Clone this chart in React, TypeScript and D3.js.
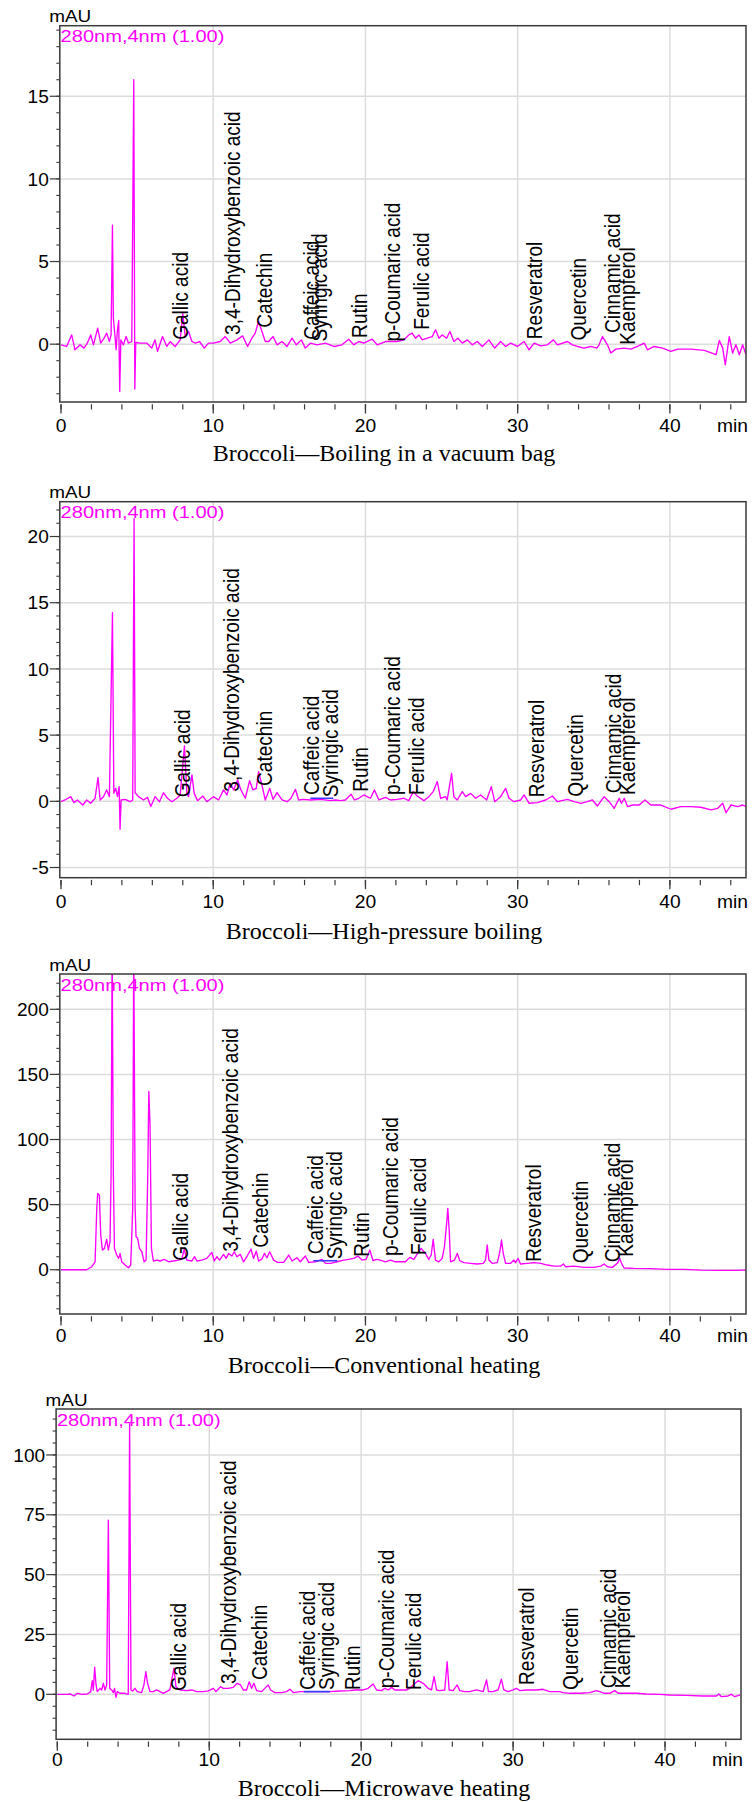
import * as d3 from 'd3';

type Pt = [number, number];

const compounds = [
  'Gallic acid', '3,4-Dihydroxybenzoic acid', 'Catechin', 'Caffeic acid', 'Syringic acid', 'Rutin',
  'p-Coumaric acid', 'Ferulic acid', 'Resveratrol', 'Quercetin', 'Cinnamic acid', 'Kaempferol',
];
const captions = [
  'Broccoli\u2014Boiling in a vacuum bag',
  'Broccoli\u2014High-pressure boiling',
  'Broccoli\u2014Conventional heating',
  'Broccoli\u2014Microwave heating',
];
const channel = '280nm,4nm (1.00)';
const xMajorTicks = [0, 10, 20, 30, 40];
const xMinorTicks = [0, 2, 4, 6, 8, 10, 12, 14, 16, 18, 20, 22, 24, 26, 28, 30, 32, 34, 36, 38, 40, 42, 44];

const yTicks1 = [0, 5, 10, 15];
const yTicks2 = [-5, 0, 5, 10, 15, 20];
const yTicks3 = [0, 50, 100, 150, 200];
const yTicks4 = [0, 25, 50, 75, 100];

// retention time (min), absorbance (mAU)
const trace1: Pt[] = [
  [0, -0.04], [0.37, -0.14], [0.7, 0.56], [0.92, -0.34], [1.25, -0.04], [1.51, -0.24], [1.73, 0.06], [1.95, 0.56],
  [2.13, -0.04], [2.41, 0.97], [2.61, 0.06], [2.83, 0.36], [3.0, 0.67], [3.18, 0.16], [3.29, 0.56], [3.38, 7.2],
  [3.44, 1.57], [3.53, 0.67], [3.62, -0.34], [3.71, 0.87], [3.79, 1.43], [3.86, -2.86], [3.93, 0.26], [4.1, -0.04],
  [4.28, 0.46], [4.43, 0.06], [4.65, 0.16], [4.78, 16.0], [4.85, -2.72], [4.91, 0.1], [5.2, 0.06], [5.64, 0.06],
  [5.96, -0.24], [6.18, 0.26], [6.34, -0.44], [6.67, 0.46], [6.95, -0.14], [7.17, 0.16], [7.5, -0.14], [7.83, 0.26],
  [8.0, 1.85], [8.16, 0.46], [8.38, 0.77], [8.6, 0.16], [8.82, 0.06], [9.1, 0.16], [9.41, -0.24], [9.69, 0.06],
  [10.02, 0.06], [10.46, 0.16], [10.79, 0.46], [11.12, 0.06], [11.56, 0.26], [11.93, 0.5], [12.26, -0.14], [12.54, 0.36],
  [12.76, 0.67], [12.98, 1.37], [13.2, 0.77], [13.42, 0.16], [13.64, 0.16], [13.93, 0.46], [14.19, -0.04], [14.52, 0.16],
  [14.85, -0.14], [15.18, 0.36], [15.46, -0.04], [15.79, 0.26], [16.05, -0.24], [16.38, 0.06], [16.82, -0.04], [17.37, 0.06],
  [17.92, -0.14], [18.46, -0.04], [18.9, 0.3], [19.23, -0.04], [19.56, 0.16], [19.89, 0.06], [20.44, 0.3], [20.77, -0.04],
  [21.32, 0.16], [21.76, 0.16], [22.08, 0.16], [22.52, 0.26], [22.85, 0.56], [23.07, 0.67], [23.29, 0.36], [23.51, 0.56],
  [23.73, 0.26], [24.06, 0.36], [24.39, 0.46], [24.61, 0.87], [24.83, 0.36], [25.04, 0.56], [25.33, 0.36], [25.55, 0.77],
  [25.81, 0.16], [26.08, 0.36], [26.36, 0.06], [26.69, 0.26], [27.02, -0.04], [27.35, 0.16], [27.68, -0.14], [28.11, 0.26],
  [28.49, -0.24], [28.88, 0.16], [29.21, -0.14], [29.54, 0.06], [29.98, -0.14], [30.42, 0.16], [30.75, -0.34], [31.08, 0.06],
  [31.51, -0.1], [31.95, -0.04], [32.35, 0.26], [32.61, -0.04], [33.27, 0.16], [33.6, -0.04], [33.93, -0.14], [34.36, -0.24],
  [34.8, -0.14], [35.2, -0.24], [35.35, -0.04], [35.57, 0.46], [35.9, -0.04], [36.12, -0.54], [36.45, -0.3], [37.0, -0.24],
  [37.44, -0.3], [37.87, -0.14], [38.31, 0.06], [38.53, -0.34], [38.97, -0.14], [39.52, -0.24], [40.07, -0.44], [40.51, -0.3],
  [41.38, -0.3], [42.26, -0.38], [43.03, -0.64], [43.25, 0.22], [43.47, -0.24], [43.64, -1.25], [43.9, 0.46], [44.12, -0.54],
  [44.34, -0.04], [44.56, -0.64], [44.78, -0.04], [45.0, -0.64],
];

const trace2: Pt[] = [
  [0, -0.03], [0.26, 0.1], [0.64, 0.35], [0.85, -0.1], [1.07, 0.1], [1.43, -0.28], [1.69, 0.1], [1.95, -0.15],
  [2.24, 0.23], [2.43, 1.8], [2.57, 0.1], [2.79, 0.35], [3.0, 0.86], [3.18, 0.35], [3.38, 14.25], [3.47, 0.6],
  [3.6, 0.98], [3.71, 0.35], [3.82, 1.11], [3.88, -2.11], [3.95, 0.1], [4.21, 0.15], [4.54, -0.03], [4.71, 0.1],
  [4.8, 21.35], [4.87, 0.65], [5.09, 0.35], [5.42, 0.1], [5.68, 0.3], [5.9, -0.4], [6.18, 0.35], [6.47, -0.03],
  [6.73, 0.65], [6.99, 0.23], [7.28, -0.03], [7.61, 0.23], [7.83, 0.48], [8.11, 4.18], [8.27, 0.6], [8.38, 0.35],
  [8.6, 2.0], [8.75, 0.6], [8.97, 0.05], [9.32, 0.4], [9.58, -0.03], [10.02, 0.35], [10.35, 0.1], [10.68, 0.86],
  [10.9, 0.48], [11.12, 1.36], [11.34, 0.86], [11.6, 1.61], [11.82, 0.86], [12.11, 0.23], [12.39, 1.56], [12.61, 0.86],
  [12.83, 0.98], [12.98, 2.24], [13.2, 1.23], [13.42, 0.1], [13.71, 0.98], [13.93, 0.15], [14.19, 0.65], [14.52, 0.1],
  [14.85, -0.03], [15.11, 0.23], [15.4, 0.91], [15.61, 0.1], [15.94, 0.15], [16.38, 0.1], [17.04, 0.15], [17.7, 0.05],
  [18.03, 0.1], [18.35, 0.05], [18.68, 0.1], [19.06, 0.53], [19.28, 0.1], [19.56, 0.23], [19.89, 0.48], [20.11, 0.35],
  [20.33, 0.23], [20.59, 0.86], [20.88, 0.1], [21.32, 0.3], [21.65, 0.1], [22.08, 0.15], [22.52, 0.23], [22.85, 0.05],
  [23.14, 0.73], [23.4, 0.4], [23.84, 0.05], [24.17, 0.35], [24.45, 0.73], [24.72, 1.49], [24.94, 0.23], [25.26, 0.35],
  [25.37, 0.1], [25.66, 2.11], [25.81, 0.35], [26.03, 0.1], [26.36, 0.73], [26.58, 0.35], [26.91, 0.6], [27.24, 0.23],
  [27.57, 0.48], [27.96, 0.1], [28.27, 1.11], [28.49, -0.03], [28.88, 0.35], [29.21, 0.98], [29.43, 0.23], [29.76, -0.03],
  [30.2, 0.1], [30.42, 0.48], [30.75, -0.15], [31.3, -0.1], [31.84, 0.1], [32.28, 0.4], [32.61, -0.03], [33.27, 0.15],
  [33.71, -0.03], [34.15, -0.15], [34.58, -0.03], [34.91, 0.1], [35.24, -0.35], [35.68, 0.35], [36.01, -0.03], [36.34, -0.53],
  [36.67, 0.23], [36.82, -0.15], [37.0, 0.23], [37.22, -0.4], [37.55, -0.28], [37.98, -0.28], [38.36, 0.1], [38.75, -0.28],
  [39.41, -0.28], [40.07, -0.6], [40.72, -0.4], [41.38, -0.4], [42.04, -0.45], [42.7, -0.65], [43.14, -0.53], [43.47, -0.15],
  [43.69, -0.86], [44.01, -0.28], [44.45, -0.4], [44.78, -0.28], [45.0, -0.4],
];

const trace3: Pt[] = [
  [0, 0], [1.69, 0], [2.02, 2.3], [2.24, 6.1], [2.35, 47], [2.41, 58.6], [2.52, 57.3], [2.61, 26.6],
  [2.72, 15.1], [2.85, 16.4], [3.0, 23.3], [3.11, 15.1], [3.22, 21.5], [3.29, 72.7], [3.36, 250], [3.44, 72.7],
  [3.51, 16.4], [3.66, 11.3], [3.79, 8.7], [3.88, 12.5], [3.99, 6.1], [4.21, 3.6], [4.43, 1.5], [4.58, 3.6],
  [4.71, 47], [4.78, 250], [4.87, 47], [4.93, 25.3], [5.04, 24.1], [5.15, 16.4], [5.31, 13.8], [5.46, 6.1],
  [5.59, 7.4], [5.7, 72.7], [5.77, 137], [5.85, 110.6], [5.94, 16.4], [6.07, 6.7], [6.34, 7.4], [6.51, 6.7],
  [6.78, 7.9], [7.06, 6.1], [7.39, 6.7], [7.72, 7.4], [7.94, 8.2], [8.09, 15.9], [8.27, 7.4], [8.6, 6.7],
  [8.77, 10.0], [8.93, 6.7], [9.25, 7.4], [9.58, 8.7], [9.91, 13.3], [10.07, 6.7], [10.24, 10.0], [10.42, 7.4],
  [10.68, 11.8], [10.85, 8.7], [11.01, 12.5], [11.23, 10.5], [11.38, 13.8], [11.56, 10.0], [11.78, 11.8], [11.99, 6.1],
  [12.21, 10.0], [12.48, 15.9], [12.65, 8.7], [12.83, 14.3], [12.98, 6.7], [13.2, 8.2], [13.36, 12.5], [13.53, 9.2],
  [13.71, 13.8], [13.97, 7.4], [14.23, 5.6], [14.63, 5.6], [14.96, 11.3], [15.18, 6.7], [15.5, 9.2], [15.72, 6.1],
  [16.05, 10.5], [16.27, 5.6], [16.71, 6.1], [17.15, 7.9], [17.37, 4.9], [17.7, 4.9], [18.14, 6.1], [18.58, 7.4],
  [18.9, 7.9], [19.23, 8.7], [19.5, 10.5], [19.78, 7.4], [20.04, 7.9], [20.29, 15.1], [20.5, 6.9], [20.72, 7.9],
  [20.98, 7.4], [21.31, 6.1], [21.64, 7.4], [21.97, 6.1], [22.3, 6.1], [22.63, 6.1], [22.91, 9.5], [23.18, 7.9],
  [23.4, 12.0], [23.66, 16.4], [23.94, 12.5], [24.16, 7.9], [24.32, 11.3], [24.45, 23.3], [24.6, 7.4], [24.82, 6.1],
  [25.04, 8.7], [25.19, 17.7], [25.33, 35], [25.41, 47.1], [25.5, 30.7], [25.59, 6.1], [25.85, 7.4], [26.03, 12.5],
  [26.2, 6.9], [26.47, 5.4], [26.9, 4.9], [27.34, 4.4], [27.74, 4.9], [27.89, 7.4], [28.0, 19.0], [28.11, 7.4],
  [28.33, 4.9], [28.66, 5.4], [28.83, 13.8], [28.94, 22.8], [29.05, 12.6], [29.21, 4.9], [29.54, 4.9], [29.75, 7.4],
  [29.86, 5.4], [30.02, 8.7], [30.19, 4.4], [30.63, 4.9], [31.07, 5.4], [31.51, 4.9], [31.95, 3.6], [32.39, 2.8],
  [32.83, 2.8], [33.0, 4.4], [33.15, 2.3], [33.7, 2.8], [34.36, 1.8], [35.02, 1.8], [35.46, 2.8], [35.68, 4.4],
  [35.9, 2.3], [36.22, 1.8], [36.55, 4.9], [36.71, 8.7], [36.82, 4.9], [36.99, 1.3], [37.65, 1.0], [38.75, 0.8],
  [39.84, 0.3], [40.94, 0.3], [42.04, -0.3], [43.13, -0.5], [44.23, -0.5], [45.0, -0.3],
];

const trace4: Pt[] = [
  [0, 0], [0.62, 0], [0.84, 0.14], [1.1, -0.7], [1.32, 0.42], [1.6, 0], [1.98, 0.14], [2.2, 1.11],
  [2.3, 5.7], [2.37, 1.81], [2.46, 11.3], [2.55, 3.9], [2.63, 1.11], [2.81, 2.5], [2.92, 1.81], [3.03, 4.6],
  [3.14, 1.81], [3.25, 3.9], [3.36, 72.8], [3.45, 2.5], [3.58, 1.81], [3.69, 0.7], [3.77, 2.5], [3.86, -1.25],
  [3.95, 1.11], [4.12, 0.42], [4.45, 0.42], [4.67, 0], [4.76, 113], [4.85, 1.81], [4.96, 1.4], [5.11, 2.5],
  [5.27, 1.11], [5.55, 0.7], [5.7, 3.9], [5.83, 9.5], [5.94, 4.6], [6.1, 1.11], [6.32, 1.11], [6.54, 1.81],
  [6.76, 1.11], [6.98, 0.42], [7.19, 1.11], [7.41, 1.81], [7.68, 10.9], [7.81, 3.2], [8.07, 1.81], [8.51, 1.53],
  [8.84, 1.81], [9.17, 1.11], [9.61, 1.11], [9.94, 1.4], [10.27, 2.5], [10.44, 1.11], [10.59, 2.1], [10.75, 3.2],
  [10.92, 2.5], [11.25, 2.5], [11.58, 2.9], [11.84, 4.6], [12.06, 3.9], [12.24, 1.81], [12.46, 1.81], [12.63, 5.3],
  [12.79, 2.5], [12.94, 4.6], [13.12, 1.53], [13.45, 1.11], [13.77, 3.2], [13.88, 3.9], [14.04, 1.81], [14.32, 0.7],
  [14.76, 0.7], [15.09, 1.11], [15.31, 2.1], [15.53, 0.7], [15.97, 1.11], [16.62, 1.11], [17.28, 1.11], [17.94, 1.11],
  [18.6, 1.4], [19.26, 1.53], [19.59, 1.81], [20.13, 1.81], [20.46, 2.5], [20.79, 4.3], [21.01, 1.81], [21.34, 1.53],
  [21.56, 2.5], [21.78, 1.81], [22.0, 2.9], [22.21, 1.81], [22.54, 1.81], [22.98, 1.81], [23.2, 2.5], [23.42, 3.9],
  [23.75, 5.7], [24.08, 4.6], [24.41, 2.5], [24.63, 1.81], [24.8, 7.4], [24.96, 1.81], [25.18, 1.53], [25.5, 1.81],
  [25.66, 13.6], [25.79, 1.81], [26.05, 1.53], [26.32, 3.9], [26.49, 1.53], [26.82, 1.11], [27.15, 1.11], [27.59, 1.81],
  [28.03, 1.11], [28.25, 6.0], [28.38, 1.11], [28.68, 1.11], [29.01, 1.81], [29.23, 6.3], [29.39, 1.81], [29.67, 1.11],
  [30.0, 1.81], [30.22, 2.5], [30.44, 1.53], [30.88, 1.81], [31.54, 1.81], [31.97, 2.1], [32.41, 1.11], [32.74, 1.11],
  [33.07, 1.11], [33.29, 0.7], [33.73, 0.42], [34.39, 0.42], [35.04, 0.7], [35.48, 1.53], [35.7, 1.11], [36.03, 0.42],
  [36.36, 0.42], [36.69, 1.53], [36.91, 0.42], [37.46, 0.42], [38.11, 0.42], [38.77, 0.14], [39.65, 0], [40.31, -0.28],
  [41.4, -0.42], [42.5, -0.7], [43.38, -0.7], [43.55, 0.14], [43.71, -1.0], [44.14, -0.7], [44.36, 0], [44.58, -1.0],
  [44.96, -0.28],
];

// peak label retention times (min) and label foot heights (mAU)
const labelRt1 = [8.36, 11.78, 13.85, 16.97, 17.47, 20.07, 22.24, 24.2, 31.6, 34.47, 36.74, 37.7];
const labelLv1 = [0.26, 0.56, 0.99, 0.26, 0.16, 0.38, 0.16, 0.87, 0.3, 0.22, 0.67, -0.04];
const labelRt2 = [8.49, 11.71, 13.86, 16.97, 18.18, 20.18, 22.24, 23.84, 31.7, 34.3, 36.8, 37.74];
const labelLv2 = [0.3, 0.73, 1.16, 0.48, 0.3, 0.73, 0.48, 0.48, 0.3, 0.35, 0.6, 0.48];
const labelRt3 = [8.37, 11.63, 13.6, 17.19, 18.46, 20.22, 22.13, 24.0, 31.5, 34.6, 36.7, 37.6];
const labelLv3 = [6.9, 13.8, 16.9, 11.8, 8.0, 10.0, 10.5, 11.3, 6.1, 4.9, 5.7, 10.0];
const labelRt4 = [8.47, 11.74, 13.8, 16.95, 18.2, 19.9, 22.15, 23.97, 31.4, 34.25, 36.74, 37.72];
const labelLv4 = [1.4, 4.3, 6.0, 1.8, 1.8, 1.8, 2.5, 1.8, 3.9, 1.8, 2.5, 2.5];

// integration baseline [start, end, level]
const integ2: [number, number, number] = [16.38, 17.89, 0.23];
const integ3: [number, number, number] = [16.58, 18.16, 6.9];
const integ4: [number, number, number] = [16.23, 17.94, 1.1];

const series = [
  { trace: trace1, rt: labelRt1, lv: labelLv1, yTicks: yTicks1, integ: null },
  { trace: trace2, rt: labelRt2, lv: labelLv2, yTicks: yTicks2, integ: integ2 },
  { trace: trace3, rt: labelRt3, lv: labelLv3, yTicks: yTicks3, integ: integ3 },
  { trace: trace4, rt: labelRt4, lv: labelLv4, yTicks: yTicks4, integ: integ4 },
];

const layouts = [
  { x0: 61, x1: 746, top: 25.7, bottom: 402, yDomain: [-3.5, 19.27], minorStep: 1, tickY: 432, capY: 461 },
  { x0: 61, x1: 746, top: 501.7, bottom: 877.7, yDomain: [-5.77, 22.63], minorStep: 1, tickY: 908.3, capY: 939.3 },
  { x0: 61, x1: 746, top: 974, bottom: 1314, yDomain: [-34, 227.1], minorStep: 10, tickY: 1341.7, capY: 1372.7 },
  { x0: 57.3, x1: 741, top: 1409, bottom: 1739.3, yDomain: [-18.8, 119.2], minorStep: 5, tickY: 1766, capY: 1796 },
];

const SANS = '"Liberation Sans", Arial, sans-serif';
const SERIF = '"Liberation Serif", "Times New Roman", serif';
const MAGENTA = '#ff00ff';
const GRID = '#dcdcdc';
const AXIS = '#3a3a3a';

function Panel({ i }: { i: number }) {
  const L = layouts[i];
  const S = series[i];
  const x = d3.scaleLinear().domain([0, 45]).range([L.x0, L.x1]);
  const y = d3.scaleLinear().domain(L.yDomain).range([L.bottom, L.top]);
  const left = L.x0 - 1.2;
  const right = L.x1;
  const line = d3.line<Pt>().x((d) => x(d[0])).y((d) => y(d[1]));
  const st = L.minorStep;
  const minor = d3.range(Math.ceil(L.yDomain[0] / st) * st, L.yDomain[1], st);
  const clipId = `clip${i}`;

  return (
    <g>
      <defs>
        <clipPath id={clipId}>
          <rect x={left} y={L.top} width={right - left} height={L.bottom - L.top} />
        </clipPath>
      </defs>
      {/* grid */}
      {S.yTicks.map((v) => (
        <line key={'gy' + v} x1={left} x2={right} y1={y(v)} y2={y(v)} stroke={GRID} strokeWidth={1.5} />
      ))}
      {xMajorTicks.slice(1).map((t) => (
        <line key={'gx' + t} x1={x(t)} x2={x(t)} y1={L.top} y2={L.bottom} stroke={GRID} strokeWidth={1.5} />
      ))}
      {/* y ticks */}
      {minor.map((v) => (
        <line key={'my' + v} x1={left - 3.5} x2={left} y1={y(v)} y2={y(v)} stroke={AXIS} strokeWidth={1.1} />
      ))}
      {S.yTicks.map((v) => (
        <g key={'ty' + v}>
          <line x1={left - 10} x2={left} y1={y(v)} y2={y(v)} stroke={AXIS} strokeWidth={1.2} />
          <text
            transform={`translate(${left - 11},${y(v)}) scale(1.06,1.02)`}
            dy="0.36em"
            textAnchor="end"
            fontSize={18}
            fill="#000"
          >
            {v}
          </text>
        </g>
      ))}
      {/* x ticks */}
      {xMinorTicks.map((t) => (
        <line key={'mx' + t} x1={x(t)} x2={x(t)} y1={L.bottom + 2.2} y2={L.bottom + 7.5} stroke={AXIS} strokeWidth={1.2} />
      ))}
      {xMajorTicks.map((t) => (
        <g key={'tx' + t}>
          <line x1={x(t)} x2={x(t)} y1={L.bottom + 2.2} y2={L.bottom + 11.5} stroke={AXIS} strokeWidth={1.3} />
          <text transform={`translate(${x(t)},${L.tickY}) scale(1.1,1.02)`} textAnchor="middle" fontSize={17.5} fill="#000">
            {t}
          </text>
        </g>
      ))}
      <text transform={`translate(${right - 29},${L.tickY}) scale(1.1,1.02)`} fontSize={17.5} fill="#000">
        min
      </text>
      {/* trace */}
      <g clipPath={`url(#${clipId})`}>
        <path d={line(S.trace) ?? ''} fill="none" stroke={MAGENTA} strokeWidth={1.35} strokeLinejoin="round" />
        {S.integ && (
          <line
            x1={x(S.integ[0])}
            x2={x(S.integ[1])}
            y1={y(S.integ[2])}
            y2={y(S.integ[2])}
            stroke="#3b3bff"
            strokeWidth={1.6}
          />
        )}
      </g>
      {/* frame */}
      <rect x={left} y={L.top} width={right - left} height={L.bottom - L.top} fill="none" stroke={AXIS} strokeWidth={1.5} />
      <text transform={`translate(${L.x0 - 11.7},${L.top - 3.5}) scale(1.18,1)`} fontSize={16} fill="#000">
        mAU
      </text>
      <text transform={`translate(${L.x0 - 0.4},${L.top + 16.5}) scale(1.18,1)`} fontSize={17} fill={MAGENTA}>
        {channel}
      </text>
      {/* peak labels */}
      {compounds.map((name, k) => (
        <text
          key={name}
          transform={`translate(${x(S.rt[k])},${y(S.lv[k])}) rotate(-90) scale(1.06,1.18)`}
          fontSize={18}
          fill="#000"
        >
          {name}
        </text>
      ))}
      <text x={384} y={L.capY} textAnchor="middle" fontFamily={SERIF} fontSize={24} fill="#000">
        {captions[i]}
      </text>
    </g>
  );
}

export default function App() {
  return (
    <div style={{ position: 'absolute', left: 0, top: 0 }}>
      <svg width={753} height={1802} fontFamily={SANS} style={{ display: 'block', background: '#fff' }}>
        {layouts.map((_, i) => (
          <Panel key={i} i={i} />
        ))}
      </svg>
    </div>
  );
}
